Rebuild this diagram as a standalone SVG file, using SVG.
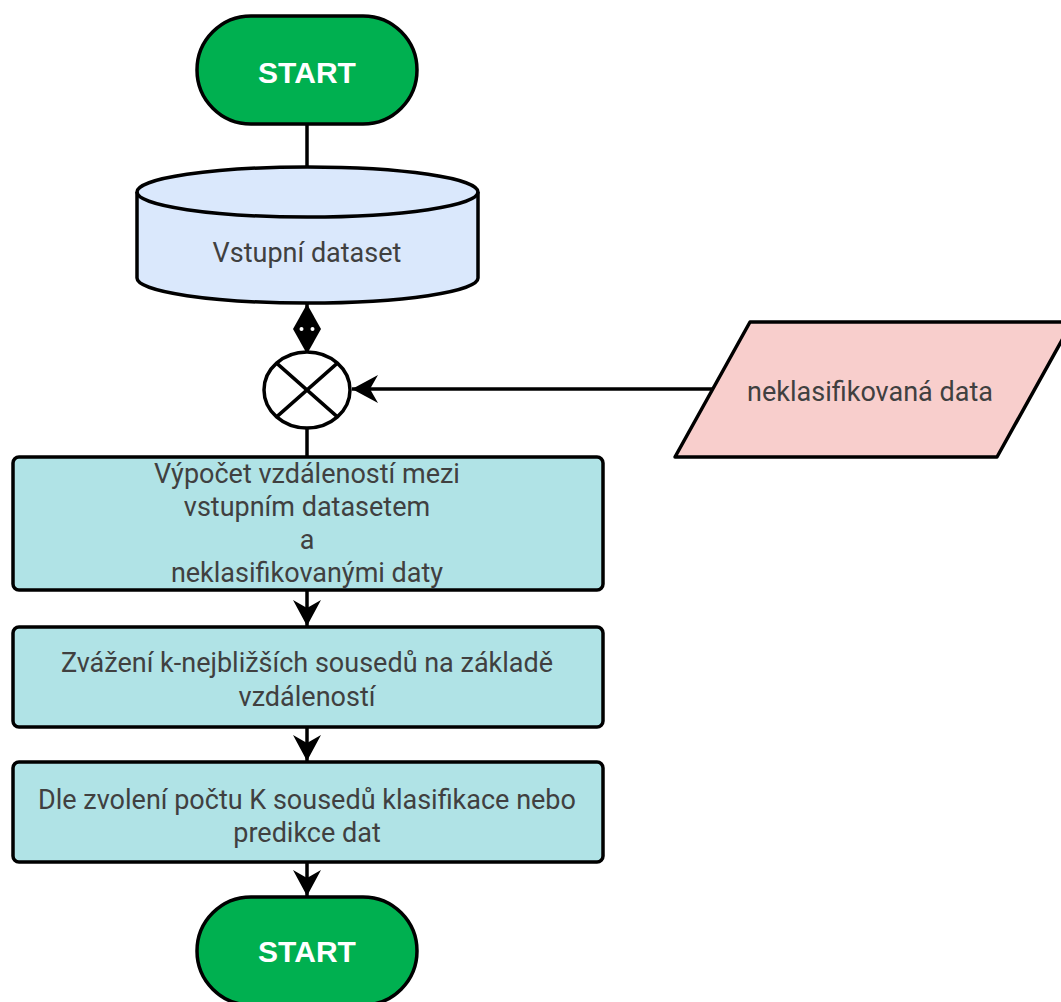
<svg xmlns="http://www.w3.org/2000/svg" width="1061" height="1002" viewBox="0 0 1061 1002">
<defs>
<style>
.s{stroke:#000;stroke-width:3.5;stroke-linejoin:round}
.term{fill:#00b050}
.proc{fill:#b0e3e6}
.t{font-family:Roboto,"Liberation Sans",sans-serif;font-size:27px;fill:#404040;text-anchor:middle}
.tw{font-family:"Liberation Sans",Arial,sans-serif;font-size:30px;font-weight:bold;fill:#fff;text-anchor:middle}
.c{fill:none;stroke:#000;stroke-width:3.5}
</style>
<marker id="ah" markerUnits="userSpaceOnUse" viewBox="0 0 26 28" refX="26" refY="14" markerWidth="26" markerHeight="28" orient="auto-start-reverse">
<path d="M0,0 L26,14 L0,28 L8,14 Z" fill="#000"/>
</marker>
</defs>
<rect width="1061" height="1002" fill="#fff"/>
<g id="connectors">
<line class="c" x1="307" y1="124" x2="307" y2="167"/>
<line class="c" x1="307" y1="303" x2="307" y2="353"/>
<path fill="#000" d="M307,304 L321,329 L307,354 L293,329 Z"/>
<circle cx="301.5" cy="329" r="2" fill="#fff"/>
<circle cx="312.5" cy="329" r="2" fill="#fff"/>
<line class="c" x1="713" y1="389" x2="352" y2="389" marker-end="url(#ah)"/>
<line class="c" x1="307" y1="428" x2="307" y2="457"/>
<line class="c" x1="307" y1="590" x2="307" y2="626" marker-end="url(#ah)"/>
<line class="c" x1="307" y1="727" x2="307" y2="761" marker-end="url(#ah)"/>
<line class="c" x1="307" y1="862" x2="307" y2="896" marker-end="url(#ah)"/>
</g>
<g id="start">
<rect class="s term" x="197" y="16" width="220" height="108" rx="54"/>
<text class="tw" x="307" y="83">START</text>
</g>
<g id="dataset">
<path class="s" fill="#dae8fc" d="M137,192 A170.5,25 0 0 1 478,192 L478,278 A170.5,25 0 0 1 137,278 Z"/>
<path class="s" fill="none" d="M137,192 A170.5,25 0 0 0 478,192"/>
<text class="t" x="307" y="262">Vstupní dataset</text>
</g>
<g id="join">
<ellipse class="s" fill="#fff" cx="307" cy="390" rx="43" ry="38"/>
<path class="s" fill="none" d="M276.6,363.1 L337.4,416.9 M337.4,363.1 L276.6,416.9"/>
</g>
<g id="input">
<path class="s" fill="#f8cecc" d="M750,322 L1072,322 L997,457 L675,457 Z"/>
<text class="t" x="870" y="401">neklasifikovaná data</text>
</g>
<g id="step1">
<rect class="s proc" x="13" y="457" width="590" height="133" rx="6"/>
<text class="t" x="307"><tspan x="307" y="483">Výpočet vzdáleností mezi</tspan><tspan x="307" y="516">vstupním datasetem</tspan><tspan x="307" y="549">a</tspan><tspan x="307" y="582">neklasifikovanými daty</tspan></text>
</g>
<g id="step2">
<rect class="s proc" x="13" y="627" width="590" height="100" rx="6"/>
<text class="t" x="307"><tspan x="307" y="672">Zvážení k-nejbližších sousedů na základě</tspan><tspan x="307" y="706">vzdáleností</tspan></text>
</g>
<g id="step3">
<rect class="s proc" x="13" y="762" width="590" height="100" rx="6"/>
<text class="t" x="307"><tspan x="307" y="809">Dle zvolení počtu K sousedů klasifikace nebo</tspan><tspan x="307" y="842">predikce dat</tspan></text>
</g>
<g id="end">
<rect class="s term" x="197" y="897" width="220" height="108" rx="54"/>
<text class="tw" x="307" y="962">START</text>
</g>
</svg>
